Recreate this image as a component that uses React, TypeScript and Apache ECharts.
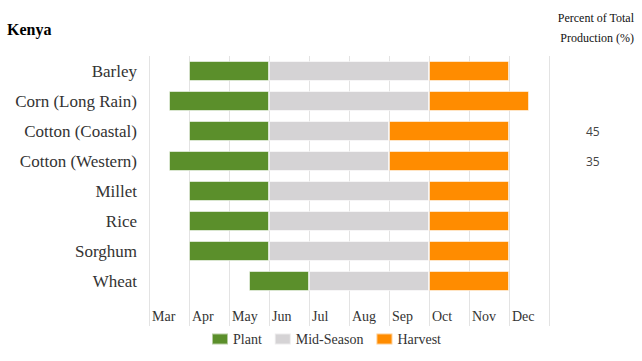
import React, { useEffect, useRef } from "react";
import * as echarts from "echarts";

const crops = ["Barley", "Corn (Long Rain)", "Cotton (Coastal)", "Cotton (Western)", "Millet", "Rice", "Sorghum", "Wheat"];
// month positions: Mar 1 = 3, Apr 1 = 4, ... Jan 1 = 13 (0.5 = mid-month)
const plantStart = [4, 3.5, 4, 3.5, 4, 4, 4, 5.5];
const midStart = [6, 6, 6, 6, 6, 6, 6, 7];
const harvestStart = [10, 10, 9, 9, 10, 10, 10, 10];
const harvestEnd = [12, 12.5, 12, 12, 12, 12, 12, 12];
const percentOfTotal = ["", "", "45", "35", "", "", "", ""];
const monthLabels = ["Mar", "Apr", "May", "Jun", "Jul", "Aug", "Sep", "Oct", "Nov", "Dec"];
const firstMonth = 3;

const SERIF = "Liberation Serif";

export default function App() {
  const ref = useRef<HTMLDivElement>(null);
  useEffect(() => {
    document.body.style.margin = "0";
    const chart = echarts.init(ref.current!, null, { renderer: "svg" });
    const cats = [...crops, ""];
    const pad = (arr: (number | string | null)[]) => [...arr, null];
    const offset = pad(plantStart);
    const plant = pad(plantStart.map((s, i) => midStart[i] - s));
    const mid = pad(midStart.map((s, i) => harvestStart[i] - s));
    const harvest = pad(harvestStart.map((s, i) => harvestEnd[i] - s));
    const barCommon = {
      type: "bar",
      stack: "season",
      barWidth: 20,
      itemStyle: { borderColor: "rgba(255,255,255,0.55)", borderWidth: 1 },
      emphasis: { disabled: true },
    };
    chart.setOption({
      animation: false,
      title: {
        text: "Kenya",
        left: 7,
        top: 21,
        padding: 0,
        textStyle: { fontFamily: SERIF, fontSize: 16, fontWeight: "bold", color: "#000" },
      },
      graphic: [
        {
          type: "text",
          x: 634,
          y: 18,
          style: {
            text: "Percent of Total",
            fontFamily: SERIF,
            fontSize: 12,
            fill: "#111",
            align: "right",
            verticalAlign: "middle",
          },
        },
        {
          type: "text",
          x: 634,
          y: 38,
          style: {
            text: "Production (%)",
            fontFamily: SERIF,
            fontSize: 12,
            fill: "#111",
            align: "right",
            verticalAlign: "middle",
          },
        },
      ],
      legend: {
        left: 211,
        top: 332,
        padding: 0,
        itemWidth: 16,
        itemHeight: 11,
        itemGap: 12,
        icon: "rect",
        data: ["Plant", "Mid-Season", "Harvest"],
        textStyle: { fontFamily: SERIF, fontSize: 14, color: "#333" },
      },
      grid: { left: 149, right: 93, top: 56, height: 270, containLabel: false },
      xAxis: {
        type: "value",
        min: firstMonth,
        max: firstMonth + 10,
        interval: 1,
        position: "bottom",
        axisLine: { show: false },
        axisTick: { show: false },
        splitLine: { show: true, lineStyle: { color: "#e3e3e3", width: 1 } },
        axisLabel: {
          inside: true,
          margin: 3,
          align: "left",
          padding: [0, 0, 0, 3],
          fontFamily: SERIF,
          fontSize: 14,
          color: "#333",
          showMaxLabel: true,
          formatter: (v: number) => monthLabels[Math.round(v - firstMonth)] ?? "",
        },
      },
      yAxis: [
        {
          type: "category",
          data: cats,
          inverse: true,
          axisLine: { show: false },
          axisTick: { show: false },
          splitLine: { show: false },
          axisLabel: { margin: 12, fontFamily: SERIF, fontSize: 17, color: "#333" },
        },
        {
          type: "category",
          data: cats,
          inverse: true,
          position: "right",
          axisLine: { show: false },
          axisTick: { show: false },
          splitLine: { show: false },
          axisLabel: {
            margin: 37,
            fontFamily: "Open Sans",
            fontSize: 12,
            color: "#444",
            formatter: (_v: string, i: number) => percentOfTotal[i] ?? "",
          },
        },
      ],
      series: [
        {
          ...barCommon,
          name: "offset",
          data: offset,
          itemStyle: { color: "transparent", borderWidth: 0 },
          silent: true,
        },
        { ...barCommon, name: "Plant", data: plant, itemStyle: { ...barCommon.itemStyle, color: "#5b8f2b" } },
        { ...barCommon, name: "Mid-Season", data: mid, itemStyle: { ...barCommon.itemStyle, color: "#d5d3d5" } },
        { ...barCommon, name: "Harvest", data: harvest, itemStyle: { ...barCommon.itemStyle, color: "#ff8c00" } },
      ],
    });
    return () => chart.dispose();
  }, []);
  return <div ref={ref} style={{ width: 642, height: 361 }} />;
}
